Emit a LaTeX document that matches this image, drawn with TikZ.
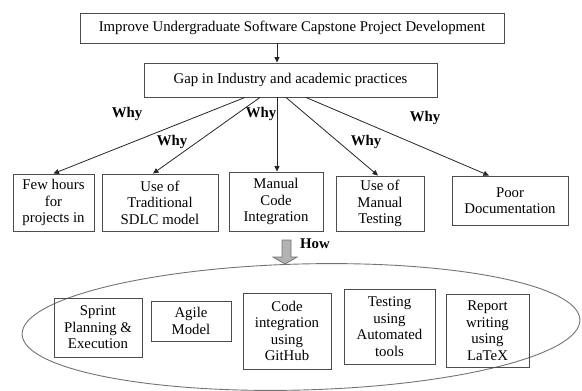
\documentclass[tikz,border=0pt]{standalone}
\usepackage{fontspec}
\setmainfont{Liberation Serif}
\usepackage{tikz}
\usetikzlibrary{arrows.meta, shapes.geometric, positioning}
\newcommand{\boxfont}{\fontsize{14.8}{16.5}\selectfont}
\tikzstyle{block} = [rectangle, draw=black!70, line width=0.9pt, align=center, inner sep=1pt, font=\boxfont]
\tikzstyle{arrow} = [-{Triangle[length=5.5pt,width=5pt]}, line width=0.8pt, draw=black!85]
\tikzstyle{why} = [font=\boxfont\bfseries]

\begin{document}
\begin{tikzpicture}[x=1pt, y=-1pt]
\useasboundingbox (0,0) rectangle (582,391);

% goal and gap
\node[block, minimum width=424pt, minimum height=30pt] (goal) at (292,28) {Improve Undergraduate Software Capstone Project Development};
\node[block, minimum width=293pt, minimum height=34pt] (gap) at (290.5,80) {Gap in Industry and academic practices};
\draw[arrow] ([xshift=-15pt]goal.south) -- ([xshift=-13.5pt]gap.north);

% causes
\node[block, minimum width=81pt, minimum height=57pt] (few) at (53.5,202.5) {Few hours\\for\\projects in};
\node[block, minimum width=116pt, minimum height=57pt] (sdlc) at (160,202.5) {Use of\\Traditional\\SDLC model};
\node[block, minimum width=94pt, minimum height=59pt] (manual) at (276,201.5) {Manual\\Code\\Integration};
\node[block, minimum width=88pt, minimum height=55pt] (mtest) at (380,203.5) {Use of\\Manual\\Testing};
\node[block, minimum width=116pt, minimum height=49pt] (poor) at (510,200.5) {Poor\\Documentation};

\draw[arrow] ([xshift=-45.5pt]gap.south) -- (few.north);
\draw[arrow] ([xshift=-30.5pt]gap.south) -- ([xshift=-7pt]sdlc.north);
\draw[arrow] ([xshift=-13.5pt]gap.south) -- ([xshift=1pt]manual.north);
\draw[arrow] ([xshift=-4.5pt]gap.south) -- ([xshift=-2pt]mtest.north);
\draw[arrow] ([xshift=15.5pt]gap.south) -- ([xshift=-21pt]poor.north);

\node[why] (why1) at (127,114) {Why};
\node[why] (why2) at (172,142) {Why};
\node[why] (why3) at (261,114) {Why};
\node[why] (why4) at (366,142) {Why};
\node[why] (why5) at (425,118) {Why};

% how: block arrow into the solutions
\draw[draw=black!55, fill=black!30, line width=0.8pt]
  (282,240) -- (291,240) -- (291,257) -- (297,257) -- (285,264)
  -- (273,257) -- (282,257) -- cycle;
\node[why] (how) at (315,244) {How};

\draw[draw=black!55, line width=0.9pt, rotate around={1.5:(301,327)}]
  (301,327) ellipse [x radius=279, y radius=63];

% solutions
\node[block, minimum width=88pt, minimum height=59pt] (sprint) at (98,327.5) {Sprint\\Planning \&\\Execution};
\node[block, minimum width=80pt, minimum height=40pt] (agile) at (191,321) {Agile\\Model};
\node[block, minimum width=88pt, minimum height=76pt] (github) at (287,331) {Code\\integration\\using\\GitHub};
\node[block, minimum width=91pt, minimum height=75pt] (autotest) at (389.5,326.5) {Testing\\using\\Automated\\tools};
\node[block, minimum width=83pt, minimum height=73pt] (latex) at (487.5,330.5) {Report\\writing\\using\\LaTeX};
\end{tikzpicture}
\end{document}
